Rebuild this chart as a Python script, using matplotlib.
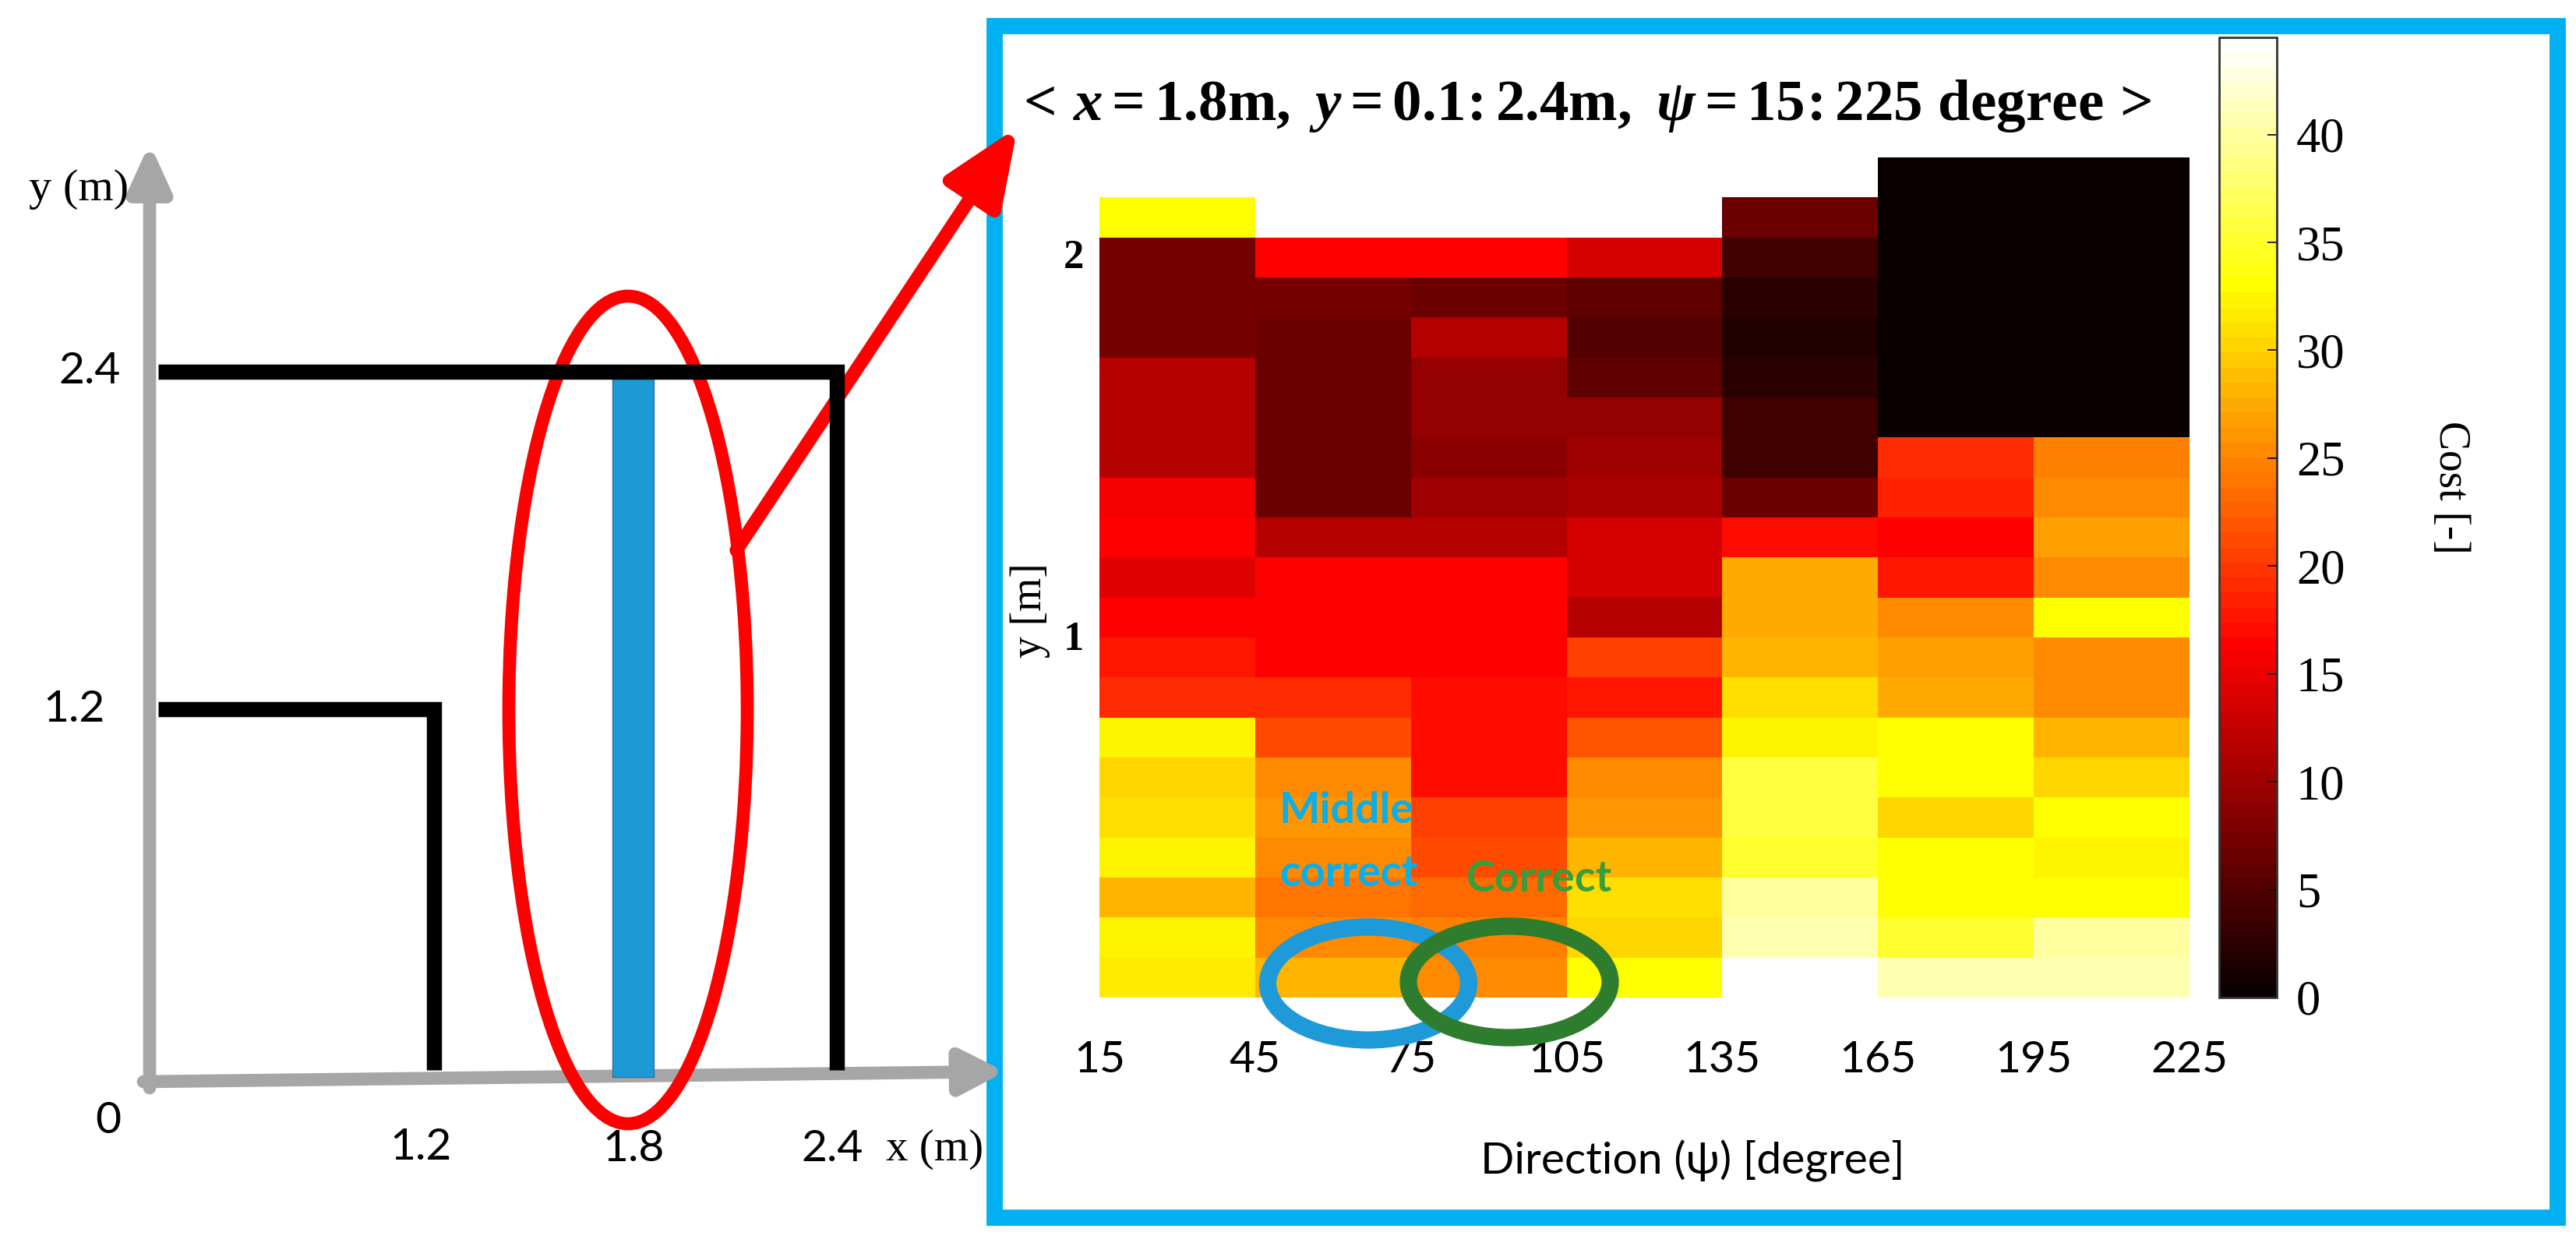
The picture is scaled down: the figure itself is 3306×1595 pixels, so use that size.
import numpy as np
import matplotlib.pyplot as plt
from matplotlib.colors import ListedColormap, Normalize
from matplotlib.patches import Ellipse, Rectangle, FancyArrowPatch

plt.rcParams['mathtext.fontset'] = 'custom'
plt.rcParams['mathtext.rm'] = 'Liberation Serif:bold'
plt.rcParams['mathtext.it'] = 'Liberation Serif:italic:bold'
plt.rcParams['mathtext.bf'] = 'Liberation Serif:bold'

# direction columns (degree) - cell edges
psi_edges = [15, 45, 75, 105, 135, 165, 195, 225]
psi_ticks = [15, 45, 75, 105, 135, 165, 195, 225]

# cost per direction column, bottom row first
cost_15 = [31.5, 32.3, 27.9, 32.0, 30.9, 30.4, 32.0, 19.4, 17.7, 16.3, 14.2,
           16.3, 15.6, 11.8, 11.5, 11.5, 7.3, 7.3, 7.3, 32.9]
cost_45 = [27.9, 25.2, 23.9, 25.5, 25.9, 25.5, 21.2, 19.4, 16.3, 16.3, 16.0,
           11.5, 6.6, 6.6, 6.6, 6.6, 6.6, 7.6, 16.3]
cost_75 = [25.2, 24.7, 23.4, 21.2, 20.4, 17.3, 17.0, 17.3, 16.3, 16.3, 16.3,
           11.5, 10.4, 8.7, 9.4, 9.4, 11.5, 6.6, 16.3]
cost_105 = [32.9, 30.1, 30.9, 28.4, 25.9, 25.5, 21.9, 17.7, 20.7, 11.8, 13.5,
            13.5, 10.8, 10.4, 9.4, 5.9, 4.9, 6.2, 13.5]
cost_135 = [44.2, 40.7, 39.7, 35.3, 35.6, 35.6, 32.0, 30.9, 28.4, 27.3, 27.3,
            17.0, 6.9, 3.5, 3.5, 2.6, 1.6, 2.6, 3.5, 6.9]
cost_165 = [40.5, 35.3, 32.9, 32.9, 30.1, 32.9, 32.9, 27.3, 26.6, 25.2, 17.7,
            16.3, 18.1, 19.4, 0.2, 0.2, 0.2, 0.2, 0.2, 0.2, 0.2]
cost_195 = [40.5, 39.7, 32.9, 32.0, 32.9, 30.1, 28.4, 25.5, 25.2, 32.9, 25.2,
            26.8, 25.2, 24.7, 0.2, 0.2, 0.2, 0.2, 0.2, 0.2, 0.2]
columns = [cost_15, cost_45, cost_75, cost_105, cost_135, cost_165, cost_195]

n_rows = 21
y_bottom, y_top = 0.053, 2.253
cost_max = 44.5
cbar_ticks = [0, 5, 10, 15, 20, 25, 30, 35, 40]

C = np.full((n_rows, len(columns)), np.nan)
for j, col in enumerate(columns):
    C[:len(col), j] = col
y_edges = np.linspace(y_bottom, y_top, n_rows + 1)

# MATLAB-style hot(64)
m, n = 64, 24
r = np.concatenate([np.arange(1, n + 1) / n, np.ones(m - n)])
g = np.concatenate([np.zeros(n), np.arange(1, n + 1) / n, np.ones(m - 2 * n)])
b = np.concatenate([np.zeros(2 * n), np.arange(1, m - 2 * n + 1) / (m - 2 * n)])
hot = ListedColormap(np.column_stack([r, g, b]))
hot.set_bad('white')

W, H = 3306, 1595
fig = plt.figure(figsize=(W / 100, H / 100), dpi=100)

def fbox(x0, y0, x1, y1):
    # pixel box (top-left origin) -> figure fraction
    return [x0 / W, 1 - y1 / H, (x1 - x0) / W, (y1 - y0) / H]

# heatmap
ax = fig.add_axes(fbox(1411, 202, 2810, 1306))
mesh = ax.pcolormesh(psi_edges, y_edges, np.ma.masked_invalid(C), cmap=hot,
                     norm=Normalize(0, cost_max))
ax.set_xlim(15, 225)
ax.set_ylim(0, y_top)
for s in ax.spines.values():
    s.set_visible(False)
ax.set_xticks(psi_ticks)
ax.set_xticklabels([str(t) for t in psi_ticks], fontname='Lato', fontsize=41)
ax.set_yticks([1, 2])
ax.set_yticklabels(['1', '2'], fontname='Liberation Serif', fontweight='bold',
                   fontsize=38)
ax.tick_params(axis='x', length=0, pad=21)
ax.tick_params(axis='y', length=0, pad=14)

# colorbar
cax = fig.add_axes(fbox(2848, 48, 2922, 1280))
cb = fig.colorbar(mesh, cax=cax, ticks=cbar_ticks)
cb.outline.set_linewidth(2)
cb.outline.set_edgecolor('#333333')
cax.tick_params(direction='in', length=9, width=1.2, pad=18, labelsize=45)
for t in cax.get_yticklabels():
    t.set_fontfamily('Liberation Serif')

# overlay for the sketch, frame and annotations
ov = fig.add_axes([0, 0, 1, 1], zorder=5)
ov.set_xlim(0, W)
ov.set_ylim(H, 0)
ov.axis('off')
ov.patch.set_alpha(0)

ov.add_patch(Rectangle((1276, 33), 3282 - 1276, 1562 - 33, fill=False,
                       ec='#00B0F0', lw=15))

ov.text(1302, 136,
        r'$<\,x = 1.8\mathrm{m},\ y = 0.1\!:2.4\mathrm{m},\ \psi = 15\!:225\ \mathrm{degree}\,>$',
        ha='left', va='center', fontsize=54)

ov.text(2172, 1490, 'Direction (ψ) [degree]', ha='center', va='center',
        fontsize=41, family=['Lato', 'DejaVu Sans'])
ov.text(1322, 783, 'y [m]', ha='center', va='center', rotation=90,
        fontsize=40, family='Liberation Serif')
ov.text(3145, 625, 'Cost [-]', ha='center', va='center', rotation=-90,
        fontsize=40, family='Liberation Serif')

# left sketch: room outline
gray = '#A6A6A6'
ov.add_patch(FancyArrowPatch((192, 1396), (192, 184),
                             arrowstyle='-|>,head_length=35,head_width=16',
                             color=gray, lw=12, shrinkA=0, shrinkB=0))
ov.add_patch(FancyArrowPatch((184, 1388), (1290, 1375),
                             arrowstyle='-|>,head_length=33,head_width=17',
                             color=gray, lw=12, shrinkA=0, shrinkB=0))
ov.plot([203, 1074, 1074], [477, 477, 1373], color='black', lw=14,
        solid_joinstyle='miter', solid_capstyle='butt')
ov.plot([203, 557, 557], [910, 910, 1373], color='black', lw=14,
        solid_joinstyle='miter', solid_capstyle='butt')
ov.add_patch(Rectangle((786, 482), 53, 900, fc='#1B9AD6', ec='#2F6FA8', lw=1))
ov.add_patch(Ellipse((806, 911), 306, 1062, fill=False, ec='#FF0000', lw=12))
ov.add_patch(FancyArrowPatch((945, 706), (1306, 163),
                             arrowstyle='-|>,head_length=60,head_width=25',
                             color='#FF0000', lw=12.5, shrinkA=0, shrinkB=0))

lab = dict(ha='center', va='center', fontsize=41, family='Lato')
ov.text(115, 476, '2.4', **lab)
ov.text(95, 910, '1.2', **lab)
ov.text(139, 1438, '0', **lab)
ov.text(540, 1472, '1.2', **lab)
ov.text(813, 1475, '1.8', **lab)
ov.text(1068, 1475, '2.4', **lab)
ov.text(1200, 1475, 'x (m)', ha='center', va='center', fontsize=41,
        family='Liberation Serif')
ov.text(101, 243, 'y (m)', ha='center', va='center', fontsize=42,
        family='Liberation Serif')

# annotations on the heatmap
ov.add_patch(Ellipse((1756, 1262), 258, 145, fill=False, ec='#1E9AD8', lw=16))
ov.add_patch(Ellipse((1937, 1260), 259, 143, fill=False, ec='#2E7D2E', lw=16))
ov.text(1642, 1040, 'Middle', ha='left', va='center', fontsize=40,
        fontweight='bold', family='Lato', color='#0AAEEA')
ov.text(1642, 1121, 'correct', ha='left', va='center', fontsize=40,
        fontweight='bold', family='Lato', color='#0AAEEA')
ov.text(1882, 1128, 'Correct', ha='left', va='center', fontsize=40,
        fontweight='bold', family='Lato', color='#3A9D3A')

fig.savefig('out.png', dpi=100)
